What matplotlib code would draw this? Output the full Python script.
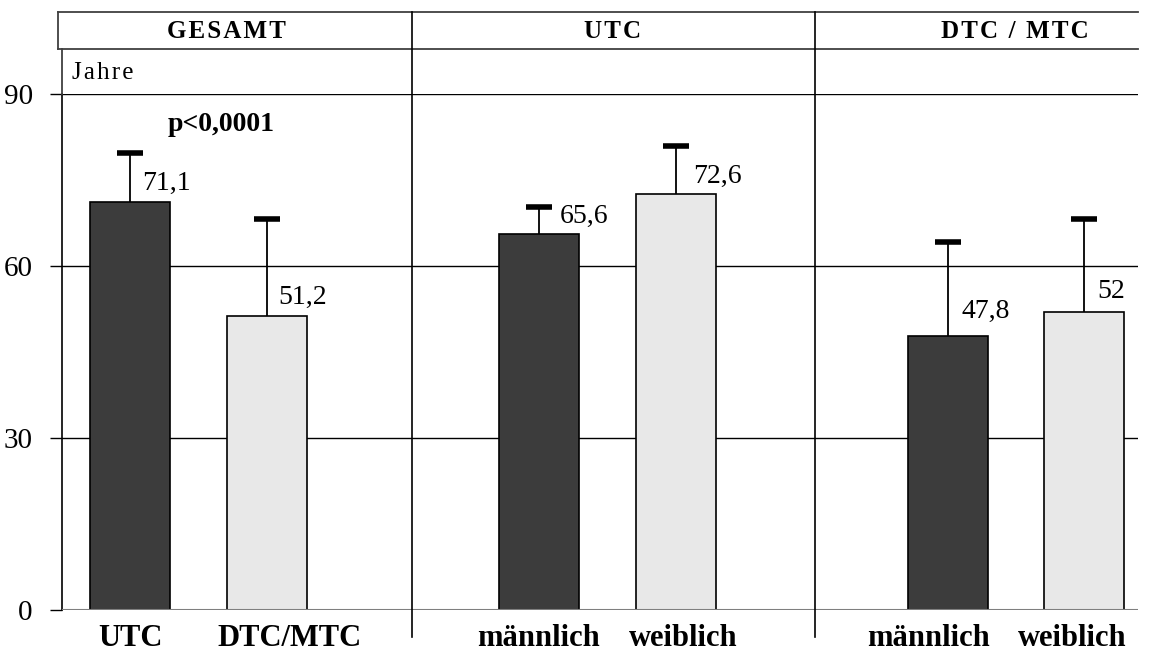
import matplotlib
matplotlib.use("Agg")
import matplotlib.pyplot as plt
from matplotlib.lines import Line2D

plt.rcParams["font.family"] = ["Liberation Serif", "DejaVu Serif"]

# data
panels = ["GESAMT", "UTC", "DTC / MTC"]
categories = ["UTC", "DTC/MTC", "männlich", "weiblich", "männlich", "weiblich"]
means = [71.1, 51.2, 65.6, 72.6, 47.8, 52.0]
upper_sd = [8.6, 17.0, 4.7, 8.3, 16.4, 16.2]
value_labels = ["71,1", "51,2", "65,6", "72,6", "47,8", "52"]
yticks = [0, 30, 60, 90]
p_text = "p<0,0001"

W, H = 1156, 651
DARK = "#3c3c3c"
LIGHT = "#e8e8e8"
colors = [DARK, LIGHT, DARK, LIGHT, DARK, LIGHT]

# layout in pixels
ax_left, ax_right, ax_top, ax_bottom = 62, 1138, 94, 610
centers_px = [130, 267, 539, 676, 948, 1084]
label_px = [130, 290, 538, 683, 929, 1072]
value_dx = [12, 11, 21, 17, 14, 13]
value_dy = [12, 13, 11, 11, 18, 14]
title_px = [226, 613, 1015]
dividers_px = [412, 815]
hdr_top, hdr_bot, hdr_left = 12, 49, 58


def fx(px):
    return px / W


def fy(py):
    return 1 - py / H


def spaced(s, gap="\u200a"):
    return gap.join(s)


fig = plt.figure(figsize=(W / 100, H / 100), dpi=100)
ax = fig.add_axes([fx(ax_left), fy(ax_bottom), fx(ax_right) - fx(ax_left),
                   fy(ax_top) - fy(ax_bottom)])
ax.set_xlim(ax_left, ax_right)
ax.set_ylim(0, 90)

x = list(centers_px)
tops = [m + s for m, s in zip(means, upper_sd)]
ax.bar(x, means, width=80, color=colors, edgecolor="black", linewidth=1.2, zorder=3)
ax.vlines(x, means, tops, color="black", linewidth=1.3, zorder=4)
ax.plot(x, tops, ls="none", marker="_", ms=19, mew=4, color="black", zorder=4)

for xi, m, lab, dx, dy in zip(x, means, value_labels, value_dx, value_dy):
    ax.annotate(lab, (xi, m), xytext=(dx, dy), textcoords="offset pixels",
                ha="left", va="baseline", fontsize=20)

ax.text(221, 84.6, p_text, ha="center", va="center", fontsize=20, fontweight="bold")

# grid and axes
for t in yticks[1:]:
    ax.axhline(t, color="black", linewidth=1, zorder=1)
ax.axhline(0, color="#7f7f7f", linewidth=1.5, zorder=5)
for s in ["top", "right", "bottom"]:
    ax.spines[s].set_visible(False)
ax.spines["left"].set_linewidth(1.2)
ax.set_yticks(yticks)
ax.set_yticklabels([str(t) for t in yticks], fontsize=21)
ax.tick_params(axis="y", length=9, width=1, pad=12)
ax.set_xticks([])

for xp, lab in zip(label_px, categories):
    fig.text(fx(xp), fy(646), lab, ha="center", va="baseline", fontsize=22,
             fontweight="bold")

# header frame
lines = [
    ([fx(hdr_left), fx(ax_right)], [fy(hdr_top), fy(hdr_top)]),
    ([fx(hdr_left), fx(ax_right)], [fy(hdr_bot), fy(hdr_bot)]),
    ([fx(hdr_left), fx(hdr_left)], [fy(hdr_top), fy(hdr_bot)]),
    ([fx(ax_left), fx(ax_left)], [fy(hdr_bot), fy(ax_top)]),
]
for xs, ys in lines:
    fig.add_artist(Line2D(xs, ys, color="#404040", linewidth=1.3))
for d in dividers_px:
    fig.add_artist(Line2D([fx(d), fx(d)], [fy(hdr_top), fy(637)], color="black",
                          linewidth=1.2))

for xp, t in zip(title_px, panels):
    fig.text(fx(xp), fy(31), spaced(t), ha="center", va="center",
             fontsize=18, fontweight="bold")

fig.text(fx(72), fy(73), spaced("Jahre"), ha="left", va="center", fontsize=18)

fig.savefig("out.png", dpi=100)
